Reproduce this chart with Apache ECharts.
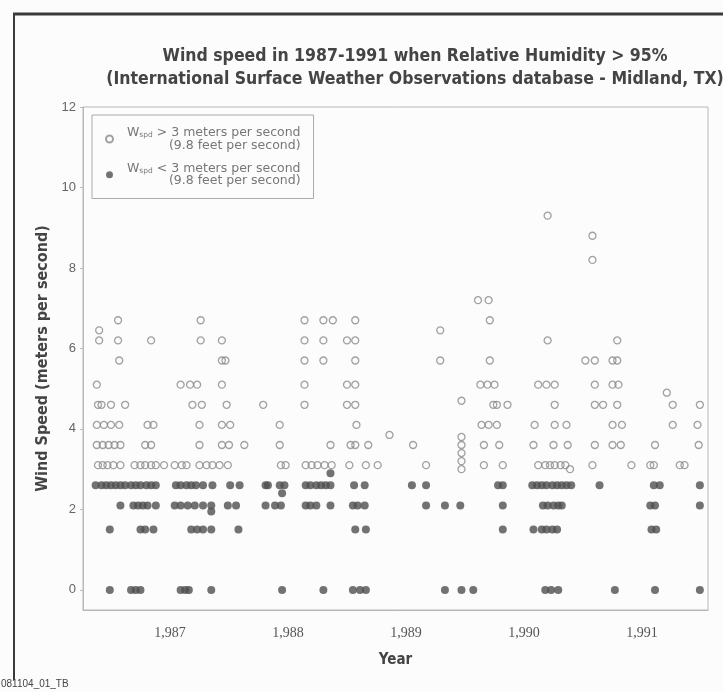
<!DOCTYPE html>
<html><head><meta charset="utf-8">
<script src="https://cdn.jsdelivr.net/npm/echarts@6/dist/echarts.min.js"></script>
<style>html,body{margin:0;padding:0;background:#fff;}#c{width:723px;height:692px;}</style>
</head><body><div id="c"></div>
<script>
// Axis tick labels
const yearTicks = [1987, 1988, 1989, 1990, 1991];
const speedTicks = [0, 2, 4, 6, 8, 10, 12];

// Wind speed < 3 m/s (filled points): observation times (decimal year) for each reported speed
const low0_0 = [1986.49,1986.67,1986.71,1986.75,1987.09,1987.13,1987.16,1987.35,1987.95,1988.30,1988.55,1988.61,1988.66,1989.33,1989.47,1989.57,1990.18,1990.23,1990.29,1990.77,1991.11,1991.49];
const low1_5 = [1986.49,1986.75,1986.79,1986.86,1987.18,1987.23,1987.28,1987.35,1987.58,1988.57,1988.66,1989.82,1990.08,1990.15,1990.19,1990.24,1990.28,1991.08,1991.12];
const low2_1 = [1986.58,1986.69,1986.73,1986.77,1986.81,1986.88,1987.04,1987.09,1987.15,1987.21,1987.28,1987.35,1987.49,1987.56,1987.81,1987.89,1987.94,1988.15,1988.19,1988.24,1988.36,1988.55,1988.59,1988.65,1989.17,1989.33,1989.46,1989.82,1990.16,1990.20,1990.25,1990.29,1990.32,1991.07,1991.11,1991.49];
const low2_6 = [1986.37,1986.42,1986.46,1986.50,1986.54,1986.58,1986.62,1986.67,1986.71,1986.75,1986.80,1986.84,1986.88,1987.05,1987.09,1987.14,1987.18,1987.22,1987.28,1987.36,1987.51,1987.59,1987.81,1987.83,1987.93,1987.97,1988.15,1988.19,1988.24,1988.28,1988.32,1988.36,1988.56,1988.65,1989.05,1989.17,1989.78,1989.82,1990.07,1990.11,1990.15,1990.19,1990.24,1990.28,1990.32,1990.36,1990.40,1990.64,1991.10,1991.15,1991.49];
const lowOther = [[1987.35,1.95],[1987.95,2.4],[1988.36,2.9]];

// Wind speed > 3 m/s (open points)
const high3_1 = [1986.39,1986.43,1986.47,1986.52,1986.58,1986.70,1986.75,1986.79,1986.84,1986.88,1986.95,1987.04,1987.10,1987.14,1987.25,1987.31,1987.36,1987.42,1987.49,1987.94,1987.98,1988.15,1988.20,1988.25,1988.31,1988.37,1988.52,1988.66,1988.76,1989.17,1989.66,1989.82,1990.12,1990.18,1990.22,1990.26,1990.31,1990.35,1990.58,1990.91,1991.07,1991.10,1991.32,1991.36];
const high3_6 = [1986.38,1986.43,1986.48,1986.53,1986.58,1986.79,1986.84,1987.25,1987.44,1987.50,1987.63,1987.93,1988.36,1988.53,1988.57,1988.68,1989.06,1989.66,1989.79,1990.08,1990.25,1990.37,1990.60,1990.75,1990.82,1991.11,1991.48];
const high4_1 = [1986.38,1986.44,1986.50,1986.57,1986.81,1986.86,1987.25,1987.44,1987.51,1987.93,1988.58,1989.64,1989.70,1989.77,1990.09,1990.26,1990.36,1990.75,1990.83,1991.26,1991.47];
const high4_6 = [1986.39,1986.42,1986.50,1986.62,1987.19,1987.27,1987.48,1987.79,1988.14,1988.50,1988.57,1989.74,1989.77,1989.86,1990.26,1990.60,1990.67,1990.79,1991.26,1991.49];
const high5_1 = [1986.38,1987.09,1987.17,1987.23,1987.44,1988.14,1988.50,1988.57,1989.63,1989.69,1989.75,1990.12,1990.19,1990.26,1990.60,1990.75,1990.80];
const high5_7 = [1986.57,1987.44,1987.47,1988.14,1988.30,1988.57,1989.29,1989.71,1990.52,1990.60,1990.75,1990.79];
const high6_2 = [1986.40,1986.56,1986.84,1987.26,1987.44,1988.14,1988.30,1988.50,1988.57,1990.20,1990.79];
const high6_7 = [1986.56,1987.26,1988.14,1988.30,1988.38,1988.57,1989.71];
const high7_2 = [1989.61,1989.70];
const highOther = [[1986.40,6.45],[1989.29,6.45],[1991.21,4.9],[1989.47,4.7],[1988.86,3.85],[1989.47,3.8],[1989.47,3.6],[1989.47,3.4],[1989.47,3.2],[1989.47,3.0],[1990.39,3.0],[1990.58,8.2],[1990.58,8.8],[1990.20,9.3]];

function rows(list) {
  const out = [];
  list.forEach(([speed, years]) => years.forEach(y => out.push([y, speed])));
  return out;
}
const lowData = rows([[0, low0_0], [1.5, low1_5], [2.1, low2_1], [2.6, low2_6]]).concat(lowOther);
const highData = rows([[3.1, high3_1], [3.6, high3_6], [4.1, high4_1], [4.6, high4_6], [5.1, high5_1], [5.7, high5_7], [6.2, high6_2], [6.7, high6_7], [7.2, high7_2]]).concat(highOther);

const chart = echarts.init(document.getElementById('c'), null, {renderer: 'canvas'});
const axisGray = '#b8b8b8';
const legendFont = 'DejaVu Sans';
chart.setOption({
  backgroundColor: '#fcfcfc',
  animation: false,
  title: {
    text: 'Wind speed in 1987-1991 when Relative Humidity > 95%\n(International Surface Weather Observations database - Midland, TX)',
    left: 410, top: 40, textAlign: 'center',
    textStyle: {fontFamily: 'DejaVu Sans Condensed, DejaVu Sans', fontWeight: 'bold', fontSize: 17.5, lineHeight: 23, color: '#444'}
  },
  grid: {left: 83, top: 107, width: 625, height: 503, show: true, borderColor: axisGray, borderWidth: 1, backgroundColor: 'transparent'},
  legend: {
    left: 92, top: 115, orient: 'vertical', data: ['high', 'low'],
    itemWidth: 7, itemHeight: 7, itemGap: 9,
    borderColor: '#aaa', borderWidth: 1, padding: [10, 13, 11, 13],
    formatter: function (name) {
      const cmp = name === 'high' ? '>' : '<';
      return '{w|W}{s|spd}{t| ' + cmp + ' 3 meters per second}\n{r|(9.8 feet per second)}';
    },
    textStyle: {
      color: '#777', fontFamily: legendFont, fontSize: 12.5,
      rich: {
        w: {fontSize: 12.5, color: '#777', fontFamily: legendFont, padding: [0, 0, 0, 9], lineHeight: 12.5},
        s: {fontSize: 7.5, color: '#777', verticalAlign: 'bottom', padding: [6, 0, 0, 0], fontFamily: legendFont, lineHeight: 12.5},
        t: {fontSize: 12.5, color: '#777', fontFamily: legendFont, lineHeight: 12.5},
        r: {fontSize: 12.5, color: '#777', align: 'right', fontFamily: legendFont, lineHeight: 12.5}
      }
    }
  },
  xAxis: {
    type: 'value', min: 1986.263, max: 1991.559,
    name: 'Year', nameLocation: 'middle', nameGap: 43,
    nameTextStyle: {fontFamily: 'DejaVu Sans Condensed, DejaVu Sans', fontWeight: 'bold', fontSize: 15, color: '#444'},
    axisLine: {show: true, onZero: false, lineStyle: {color: axisGray}},
    axisTick: {show: false},
    axisLabel: {customValues: yearTicks, color: '#555', fontFamily: 'Liberation Serif', fontSize: 14, margin: 16},
    splitLine: {show: false}
  },
  yAxis: {
    type: 'value', min: -0.5, max: 12,
    name: 'Wind Speed (meters per second)', nameLocation: 'middle', nameGap: 31, nameRotate: 90,
    nameTextStyle: {fontFamily: 'DejaVu Sans Condensed, DejaVu Sans', fontWeight: 'bold', fontSize: 16, color: '#444'},
    axisLine: {show: true, onZero: false, lineStyle: {color: axisGray}},
    axisTick: {show: true, customValues: speedTicks, length: 3, inside: false, lineStyle: {color: axisGray}},
    axisLabel: {customValues: speedTicks, color: '#666', fontFamily: 'Liberation Sans', fontSize: 13, margin: 7},
    splitLine: {show: false}
  },
  graphic: [
    {type: 'line', shape: {x1: 13, y1: 14, x2: 723, y2: 14}, style: {stroke: '#3a3a3a', lineWidth: 3}},
    {type: 'line', shape: {x1: 14, y1: 13, x2: 14, y2: 680}, style: {stroke: '#3a3a3a', lineWidth: 2}},
    {type: 'text', left: 1, top: 679, style: {text: '081104_01_TB', fontSize: 10, fill: '#444', fontFamily: 'Liberation Sans Narrow, Liberation Sans'}}
  ],
  series: [
    {name: 'high', type: 'scatter', data: highData, symbol: 'circle', symbolSize: 7,
     itemStyle: {color: 'rgba(255,255,255,0)', borderColor: '#8a8a8a', borderWidth: 1.3}},
    {name: 'low', type: 'scatter', data: lowData, symbol: 'circle', symbolSize: 8,
     itemStyle: {color: '#4f4f4f'}}
  ]
});
</script></body></html>
